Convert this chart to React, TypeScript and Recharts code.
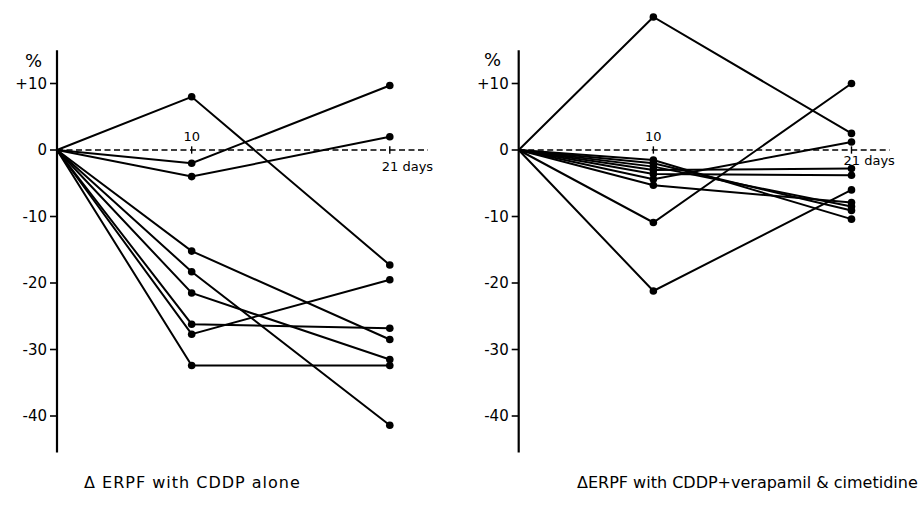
import React from 'react';
import { LineChart, Line, XAxis, YAxis, ReferenceLine } from 'recharts';

// ---- data (% change of ERPF) ----
const DAYS = [0, 10, 21];
const BASELINE = 0;
const LEFT_DAY10 = [8, -2, -4, -15.2, -18.3, -21.5, -26.2, -27.7, -32.4];
const LEFT_DAY21 = [-17.3, 9.7, 2.0, -28.5, -41.4, -31.5, -26.8, -19.5, -32.4];
const RIGHT_DAY10 = [20, -10.9, -21.2, -1.5, -2.0, -2.5, -5.3, -3.0, -3.6, -4.4];
const RIGHT_DAY21 = [2.5, 10.0, -6.0, -10.4, -9.1, -8.5, -7.9, -2.8, -3.8, 1.2];
const Y_TICKS = [10, 0, -10, -20, -30, -40];
const Y_DOMAIN = [-45.5, 21];
const Y_AXIS_TOP = 15;
const X_DOMAIN = [0, 24.3];
const X_TICK_DAYS = [10, 21];
const LEFT_TITLE = 'Δ ERPF with CDDP alone';
const RIGHT_TITLE = 'ΔERPF with CDDP+verapamil & cimetidine';

// The figure's day axis is not drawn to a uniform scale: piecewise-linear day scale
const X_KNOTS = [0, 10, 21, 24.3];
const X_FRACS = [0, 0.363, 0.897, 1];

function makeDayScale(): any {
  let dom: number[] = [X_DOMAIN[0], X_DOMAIN[1]];
  let rng: number[] = [0, 1];
  const toFrac = (v: number) => {
    for (let i = 1; i < X_KNOTS.length; i++) {
      if (v <= X_KNOTS[i] || i === X_KNOTS.length - 1) {
        const a = X_KNOTS[i - 1];
        const b = X_KNOTS[i];
        return X_FRACS[i - 1] + ((v - a) / (b - a)) * (X_FRACS[i] - X_FRACS[i - 1]);
      }
    }
    return 0;
  };
  const scale: any = (v: number) => rng[0] + toFrac(Number(v)) * (rng[rng.length - 1] - rng[0]);
  scale.domain = (d?: number[]) => {
    if (d === undefined) return dom.slice();
    dom = Array.from(d);
    return scale;
  };
  scale.range = (r?: number[]) => {
    if (r === undefined) return rng.slice();
    rng = Array.from(r);
    return scale;
  };
  scale.copy = () => makeDayScale().domain(dom).range(rng);
  scale.ticks = () => DAYS.slice();
  scale.tickFormat = () => (v: any) => String(v);
  scale.nice = () => scale;
  scale.clamp = () => scale;
  scale.invert = (p: number) => {
    const f = (p - rng[0]) / (rng[rng.length - 1] - rng[0]);
    for (let i = 1; i < X_FRACS.length; i++) {
      if (f <= X_FRACS[i] || i === X_FRACS.length - 1) {
        return X_KNOTS[i - 1] + ((f - X_FRACS[i - 1]) / (X_FRACS[i] - X_FRACS[i - 1])) * (X_KNOTS[i] - X_KNOTS[i - 1]);
      }
    }
    return 0;
  };
  return scale;
}

const dayScale = makeDayScale();

function buildRows(d10: number[], d21: number[]) {
  return DAYS.map((day, i) => {
    const row: any = { day };
    d10.forEach((v, s) => {
      row['s' + s] = i === 0 ? BASELINE : i === 1 ? v : d21[s];
    });
    return row;
  });
}

const FONT = '"DejaVu Sans", sans-serif';

const renderDot = (props: any) => {
  const { cx, cy, index, dataKey } = props;
  const key = `${dataKey}-${index}`;
  if (index === 0 || cx == null || cy == null) return <g key={key} />;
  return <circle key={key} cx={cx} cy={cy} r={3.8} fill="#000" stroke="none" />;
};

const fmtY = (v: number) => (v > 0 ? `+${v}` : v < 0 ? `-${Math.abs(v)}` : '0');

function Panel(props: {
  d10: number[];
  d21: number[];
  width: number;
  yAxisWidth: number;
  marginRight: number;
  daysLabelDy: number;
}) {
  const { d10, d21, width, yAxisWidth, marginRight, daysLabelDy } = props;
  const rows = buildRows(d10, d21);
  return (
    <LineChart
      width={width}
      height={460}
      data={rows}
      margin={{ top: 10.35, right: marginRight, bottom: 7.42, left: 0 }}
      style={{ fontFamily: FONT }}
    >
      <XAxis type="number" dataKey="day" domain={X_DOMAIN} scale={dayScale} hide height={0} />
      <YAxis
        type="number"
        domain={Y_DOMAIN}
        ticks={Y_TICKS}
        interval={0}
        width={yAxisWidth}
        axisLine={false}
        tickLine={{ stroke: '#000', strokeWidth: 1.6 }}
        tickSize={7}
        tickMargin={3}
        tick={{ fill: '#000', fontSize: 15, fontFamily: FONT }}
        tickFormatter={fmtY}
      />
      <ReferenceLine
        segment={[{ x: 0, y: Y_AXIS_TOP }, { x: 0, y: Y_DOMAIN[0] }]}
        stroke="#000"
        strokeWidth={2.2}
        ifOverflow="visible"
      />
      <ReferenceLine
        segment={[{ x: 0, y: 0 }, { x: X_DOMAIN[1], y: 0 }]}
        stroke="#000"
        strokeWidth={1.4}
        strokeDasharray="6 3.5"
        ifOverflow="visible"
      />
      <ReferenceLine
        segment={[{ x: X_TICK_DAYS[0], y: 0.55 }, { x: X_TICK_DAYS[0], y: -0.55 }]}
        stroke="#000"
        strokeWidth={1.4}
        ifOverflow="visible"
        label={{ value: String(X_TICK_DAYS[0]), position: 'top', offset: 5, fill: '#000', fontSize: 13, fontFamily: FONT }}
      />
      <ReferenceLine
        segment={[{ x: X_TICK_DAYS[1], y: 0.55 }, { x: X_TICK_DAYS[1], y: -0.55 }]}
        stroke="#000"
        strokeWidth={1.4}
        ifOverflow="visible"
        label={(p: any) => {
          const vb = p.viewBox || {};
          return (
            <text
              x={(vb.x || 0) - 8}
              y={(vb.y || 0) + (vb.height || 0) + daysLabelDy}
              fill="#000"
              fontSize={13}
              fontFamily={FONT}
            >
              {`${X_TICK_DAYS[1]} days`}
            </text>
          );
        }}
      />
      {d10.map((_, s) => (
        <Line
          key={s}
          type="linear"
          dataKey={'s' + s}
          stroke="#000"
          strokeWidth={2}
          dot={renderDot}
          activeDot={false}
          isAnimationActive={false}
        />
      ))}
    </LineChart>
  );
}

export default function App() {
  return (
    <div
      style={{
        position: 'absolute',
        left: 0,
        top: 0,
        width: 923,
        height: 505,
        background: '#fff',
        fontFamily: FONT,
        color: '#000',
        overflow: 'hidden',
      }}
    >
      <div style={{ position: 'absolute', left: 0, top: 0 }}>
        <Panel d10={LEFT_DAY10} d21={LEFT_DAY21} width={460} yAxisWidth={57} marginRight={32} daysLabelDy={17} />
      </div>
      <div style={{ position: 'absolute', left: 460, top: 0 }}>
        <Panel d10={RIGHT_DAY10} d21={RIGHT_DAY21} width={463} yAxisWidth={58.7} marginRight={33.3} daysLabelDy={11} />
      </div>
      <div style={{ position: 'absolute', left: 25, top: 52, fontSize: 18, lineHeight: 1 }}>%</div>
      <div style={{ position: 'absolute', left: 484, top: 51, fontSize: 18, lineHeight: 1 }}>%</div>
      <div style={{ position: 'absolute', left: 84, top: 475, fontSize: 16, lineHeight: 1, letterSpacing: 1, whiteSpace: 'pre' }}>
        {LEFT_TITLE}
      </div>
      <div style={{ position: 'absolute', left: 577, top: 475, fontSize: 16, lineHeight: 1, whiteSpace: 'pre' }}>
        {RIGHT_TITLE}
      </div>
    </div>
  );
}
